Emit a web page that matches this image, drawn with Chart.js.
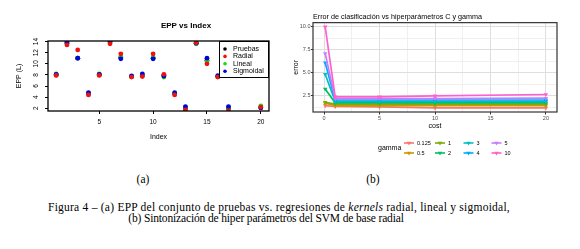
<!DOCTYPE html>
<html>
<head>
<meta charset="utf-8">
<script src="https://cdn.jsdelivr.net/npm/chart.js@4.4.1/dist/chart.umd.min.js"></script>
<style>
  html, body { margin: 0; padding: 0; background: #fff; }
  body { width: 580px; height: 249px; position: relative; overflow: hidden; }
  canvas { position: absolute; top: 0; }
  #chartA { left: 0; }
  #chartB { left: 290px; }
  .cap {
    position: absolute;
    font-family: "Liberation Serif", "DejaVu Serif", serif;
    font-size: 11.5px;
    color: #000;
    white-space: nowrap;
    transform: translate(-50%, -50%);
  }
</style>
</head>
<body>
<canvas id="chartA" width="290" height="165"></canvas>
<canvas id="chartB" width="290" height="165"></canvas>
<div class="cap" style="left:143px;top:179px">(a)</div>
<div class="cap" style="left:373px;top:179px">(b)</div>
<div class="cap" style="left:279px;top:207px;letter-spacing:0.24px">Figura 4 – (a) EPP del conjunto de pruebas vs. regresiones de <i>kernels</i> radial, lineal y sigmoidal,</div>
<div class="cap" style="left:266px;top:218px;letter-spacing:-0.15px">(b) Sintonización de hiper parámetros del SVM de base radial</div>
<script>
// ---- (a) EPP vs Index ----
const indexA    = [1, 2, 3, 4, 5, 6, 7, 8, 9, 10, 11, 12, 13, 14, 15, 16, 17, 18, 19, 20];
const pruebas   = [8.0, 13.7, 11.0, 4.6, 8.0, 13.9, 11.1, 7.7, 7.9, 11.0, 7.9, 4.6, 2.0, 13.7, 10.6, 7.7, 2.0, null, null, 2.1];
const radial    = [7.9, 13.4, 12.5, 4.4, 7.9, 13.6, 11.8, 7.6, 7.7, 11.8, 8.1, 4.4, 1.7, 13.8, 10.0, 7.6, 1.5, null, null, 2.2];
const lineal    = [8.2, 13.6, 11.0, 4.7, 8.2, 13.9, 11.3, 7.7, 8.0, 11.2, 7.6, 4.7, 2.1, 13.6, 10.5, 7.7, 2.1, null, null, 2.4];
const sigmoidal = [8.1, 13.9, 11.0, 4.8, 8.1, 14.1, 10.9, 7.8, 8.2, 10.9, 7.8, 4.8, 2.3, 13.7, 11.0, 7.85, 2.3, null, null, 2.1];
const xTicksA = [5, 10, 15, 20];
const yTicksA = [2, 4, 6, 8, 10, 12, 14];

// ---- (b) error vs cost, one series per gamma ----
const costs = [0.1, 1, 5, 10, 20];
const gammaLabels = ['0.125', '0.5', '1', '2', '3', '4', '5', '10'];
const err_g0125 = [1.45, 1.35, 1.3, 1.2, 1.2];
const err_g05   = [1.7, 1.45, 1.45, 1.45, 1.45];
const err_g1    = [1.8, 1.6, 1.6, 1.6, 1.6];
const err_g2    = [3.25, 1.75, 1.75, 1.75, 1.75];
const err_g3    = [4.85, 1.9, 1.9, 1.9, 1.9];
const err_g4    = [6.1, 2.05, 2.05, 2.05, 2.05];
const err_g5    = [7.1, 2.2, 2.2, 2.2, 2.25];
const err_g10   = [10.0, 2.4, 2.4, 2.5, 2.65];
const xTicksB = [0, 5, 10, 15, 20];
const yTicksB = [2.5, 5, 7.5, 10];

const gammaSeries = [err_g0125, err_g05, err_g1, err_g2, err_g3, err_g4, err_g5, err_g10];
const gammaColors = ['#F8766D', '#CD9600', '#7CAE00', '#00BE67', '#00BFC4', '#00A9FF', '#C77CFF', '#FF61CC'];

Chart.defaults.font.family = '"Liberation Sans", Arial, sans-serif';
Chart.defaults.color = '#000';

const SANS = '"Liberation Sans", Arial, sans-serif';

function toPoints(xs, ys) {
    return xs.map((x, i) => ({ x: x, y: ys[i] }));
}

// major ticks plus ggplot-style minor ticks half way between them
function withMinor(major, min, max) {
    const step = major[1] - major[0];
    const out = major.map(v => ({ value: v }));
    for (let v = major[0] - step / 2; v <= max; v += step) {
        if (v >= min) out.push({ value: v, minor: true });
    }
    return out.sort((a, b) => a.value - b.value);
}

// R style frame, rotated y labels, legend box and title for (a)
const rStyleA = {
    id: 'rStyleA',
    afterDatasetsDraw(chart) {
        const { ctx, chartArea: a } = chart;
        const yScale = chart.scales.y;
        ctx.save();

        // y tick labels read bottom to top, as R draws them
        ctx.fillStyle = '#000';
        ctx.font = '6.5px ' + SANS;
        ctx.textAlign = 'center';
        ctx.textBaseline = 'middle';
        yTicksA.forEach(v => {
            ctx.save();
            ctx.translate(a.left - 12, yScale.getPixelForValue(v));
            ctx.rotate(-Math.PI / 2);
            ctx.fillText(String(v), 0, 0);
            ctx.restore();
        });

        const w = 50, h = 37;
        const x0 = a.right - w, y0 = a.top;
        ctx.fillStyle = '#fff';
        ctx.fillRect(x0, y0, w, h);
        ctx.strokeStyle = '#000';
        ctx.lineWidth = 1;
        ctx.strokeRect(x0 + 0.5, y0 + 0.5, w - 1, h - 1);
        ctx.font = '7px ' + SANS;
        ctx.textAlign = 'left';
        chart.data.datasets.forEach((ds, i) => {
            const y = y0 + 8 + i * 7.4;
            ctx.fillStyle = ds.backgroundColor;
            ctx.beginPath();
            ctx.arc(x0 + 6, y, 1.8, 0, Math.PI * 2);
            ctx.fill();
            ctx.fillStyle = '#000';
            ctx.fillText(ds.label, x0 + 14, y);
        });
        ctx.lineWidth = 1.3;
        ctx.strokeRect(a.left, a.top, a.width, a.height);
        ctx.font = 'bold 8px ' + SANS;
        ctx.textAlign = 'center';
        ctx.fillText('EPP vs Index', 186, 25.5);
        ctx.restore();
    }
};

new Chart(document.getElementById('chartA'), {
    type: 'scatter',
    data: {
        datasets: [
            { label: 'Pruebas', data: toPoints(indexA, pruebas), backgroundColor: '#000000', order: 4 },
            { label: 'Radial', data: toPoints(indexA, radial), backgroundColor: '#ee1111', order: 1 },
            { label: 'Lineal', data: toPoints(indexA, lineal), backgroundColor: '#11dd11', order: 3 },
            { label: 'Sigmoidal', data: toPoints(indexA, sigmoidal), backgroundColor: '#0000dd', order: 2 }
        ]
    },
    options: {
        responsive: false,
        animation: false,
        devicePixelRatio: 1,
        events: [],
        layout: { padding: { left: 0, right: 21, top: 41, bottom: 0 } },
        elements: { point: { radius: 2.4, borderWidth: 0 } },
        plugins: { legend: { display: false }, tooltip: { enabled: false } },
        scales: {
            x: {
                type: 'linear', min: 0.24, max: 20.76,
                afterBuildTicks: s => { s.ticks = xTicksA.map(v => ({ value: v })); },
                afterFit: s => { s.height = 54; },
                border: { display: false },
                grid: { drawOnChartArea: false, tickLength: 3, tickColor: '#000', tickWidth: 1 },
                ticks: { color: '#000', font: { size: 6.5 }, padding: 4, maxRotation: 0 },
                title: { display: true, text: 'Index', color: '#000', font: { size: 7 }, padding: { top: 0, bottom: 24 } }
            },
            y: {
                min: 1.5, max: 14.1,
                afterBuildTicks: s => { s.ticks = yTicksA.map(v => ({ value: v })); },
                afterFit: s => { s.width = 48; },
                border: { display: false },
                grid: { drawOnChartArea: false, tickLength: 3, tickColor: '#000', tickWidth: 1 },
                ticks: { display: false },
                title: { display: true, text: 'EPP (L)', color: '#000', font: { size: 7 }, padding: { top: 15, bottom: 0 } }
            }
        }
    },
    plugins: [rStyleA]
});

// ggplot style panel border and bottom legend for (b)
const ggStyleB = {
    id: 'ggStyleB',
    afterDraw(chart) {
        const { ctx, chartArea: a } = chart;
        ctx.save();
        ctx.strokeStyle = '#333333';
        ctx.lineWidth = 1.2;
        ctx.strokeRect(a.left, a.top, a.width, a.height);

        ctx.fillStyle = '#000';
        ctx.textBaseline = 'middle';
        ctx.textAlign = 'left';
        ctx.font = '7px ' + SANS;
        ctx.fillText('gamma', 88, 148);

        const colX = [119, 150, 178.5, 206.5];
        const rowY = [143, 153];
        ctx.font = '5.5px ' + SANS;
        chart.data.datasets.forEach((ds, i) => {
            const kx = colX[Math.floor(i / 2)];
            const ky = rowY[i % 2];
            ctx.strokeStyle = ds.borderColor;
            ctx.lineWidth = 1.6;
            ctx.beginPath();
            ctx.moveTo(kx - 5, ky);
            ctx.lineTo(kx + 5, ky);
            ctx.stroke();
            const r = 2.6;
            ctx.fillStyle = ds.backgroundColor;
            ctx.beginPath();
            ctx.moveTo(kx, ky + r);
            ctx.lineTo(kx - r * 0.866, ky - r * 0.5);
            ctx.lineTo(kx + r * 0.866, ky - r * 0.5);
            ctx.closePath();
            ctx.fill();
            ctx.fillStyle = '#000';
            ctx.fillText(ds.label, kx + 8, ky);
        });
        ctx.restore();
    }
};

const gridColor = c => (c.tick && c.tick.minor) ? '#ececec' : '#dedede';
const gridWidth = c => (c.tick && c.tick.minor) ? 0.8 : 1;
const tickColor = c => (c.tick && c.tick.minor) ? 'rgba(0,0,0,0)' : '#333333';

new Chart(document.getElementById('chartB'), {
    type: 'line',
    data: {
        datasets: gammaSeries.map((s, i) => ({
            label: gammaLabels[i],
            data: toPoints(costs, s),
            borderColor: gammaColors[i],
            backgroundColor: gammaColors[i],
            borderWidth: 1.7,
            pointStyle: 'triangle',
            rotation: 180,
            pointRadius: 2.6,
            pointBorderWidth: 0,
            tension: 0,
            order: gammaLabels.length - i
        }))
    },
    options: {
        responsive: false,
        animation: false,
        devicePixelRatio: 1,
        events: [],
        layout: { padding: { left: 0, right: 23, top: 0, bottom: 0 } },
        plugins: {
            legend: { display: false },
            tooltip: { enabled: false },
            title: {
                display: true,
                text: 'Error de clasificación vs hiperparámetros C y gamma',
                align: 'start',
                fullSize: false,
                color: '#000',
                font: { size: 7.2, weight: 'normal' },
                padding: { top: 12.5, bottom: 1.5 }
            }
        },
        scales: {
            x: {
                type: 'linear', min: -1, max: 21,
                afterBuildTicks: s => { s.ticks = withMinor(xTicksB, -1, 21); },
                afterFit: s => { s.height = 53; },
                border: { display: false },
                grid: { color: gridColor, lineWidth: gridWidth, tickColor: tickColor, tickLength: 2.5 },
                ticks: {
                    color: '#4d4d4d', font: { size: 5.5 }, padding: 0.5, maxRotation: 0,
                    callback: (v, i, ticks) => ticks[i].minor ? '' : String(v)
                },
                title: { display: true, text: 'cost', color: '#000', font: { size: 7 }, padding: { top: 0, bottom: 35 } }
            },
            y: {
                min: 0.75, max: 10.45,
                afterBuildTicks: s => { s.ticks = withMinor(yTicksB, 0.75, 10.45); },
                afterFit: s => { s.width = 23; },
                border: { display: false },
                grid: { color: gridColor, lineWidth: gridWidth, tickColor: tickColor, tickLength: 2 },
                ticks: {
                    color: '#4d4d4d', font: { size: 5.5 }, padding: 0.5,
                    callback: (v, i, ticks) => ticks[i].minor ? '' : Number(v).toFixed(1)
                },
                title: { display: true, text: 'error', color: '#000', font: { size: 7 }, padding: { top: 2, bottom: 0 } }
            }
        }
    },
    plugins: [ggStyleB]
});
</script>
</body>
</html>
